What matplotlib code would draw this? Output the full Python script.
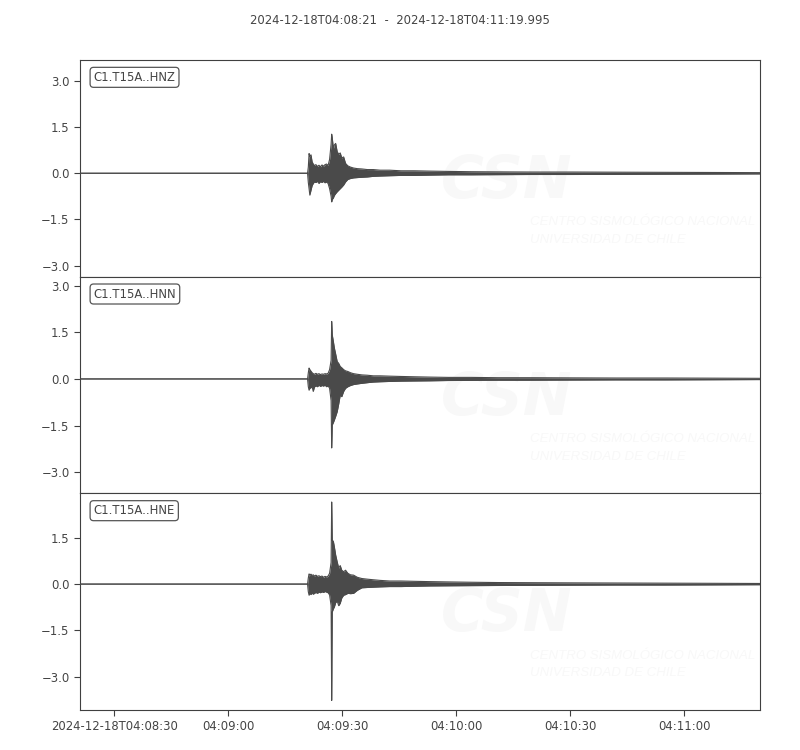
import numpy as np
import matplotlib.pyplot as plt

# Tempo em segundos depois de 2024-12-18T04:08:00
tempos = [21.0, 80.9, 81.1, 81.3, 81.5, 81.8, 82.1, 82.4, 82.7, 83.1,
          83.5, 83.9, 84.3, 84.7, 85.1, 85.5, 85.9, 86.3, 86.7, 87.1,
          87.25, 87.4, 87.7, 87.95, 88.3, 88.7, 89.1, 89.5, 89.9, 90.4,
          90.9, 91.5, 92.2, 93.0, 94.0, 95.2, 96.6, 98.2, 100.0, 102.5,
          105.5, 109.0, 113.0, 118.0, 124.0, 131.0, 140.0, 150.0, 162.0, 175.0,
          188.0, 199.995]

hnz_sup = [0, 0, 0.2, 0.64, 0.55, 0.6, 0.37, 0.3, 0.25, 0.28,
           0.22, 0.26, 0.21, 0.27, 0.23, 0.28, 0.3, 0.25, 0.45, 0.95,
           1.27, 1.15, 0.8, 0.92, 0.97, 0.7, 0.62, 0.66, 0.5, 0.53,
           0.32, 0.24, 0.2, 0.17, 0.15, 0.14, 0.12, 0.12, 0.1, 0.1,
           0.08, 0.08, 0.07, 0.06, 0.05, 0.045, 0.04, 0.04, 0.035, 0.03,
           0.025, 0.02]
hnz_inf = [0, 0, -0.3, -0.5, -0.71, -0.55, -0.4, -0.33, -0.28, -0.3,
           -0.26, -0.33, -0.27, -0.3, -0.26, -0.31, -0.28, -0.33, -0.5, -0.75,
           -0.93, -0.85, -0.8, -0.72, -0.66, -0.6, -0.55, -0.5, -0.45, -0.38,
           -0.28, -0.2, -0.17, -0.15, -0.14, -0.13, -0.12, -0.1, -0.09, -0.08,
           -0.07, -0.07, -0.06, -0.05, -0.05, -0.045, -0.04, -0.04, -0.035, -0.03,
           -0.025, -0.02]

hnn_sup = [0, 0, 0.2, 0.35, 0.3, 0.25, 0.2, 0.17, 0.15, 0.18,
           0.15, 0.17, 0.14, 0.16, 0.15, 0.17, 0.16, 0.18, 0.3, 0.6,
           1.85, 1.42, 1.2, 1.0, 0.8, 0.56, 0.5, 0.4, 0.36, 0.3,
           0.26, 0.24, 0.2, 0.17, 0.15, 0.13, 0.12, 0.1, 0.1, 0.09,
           0.08, 0.07, 0.06, 0.05, 0.05, 0.04, 0.04, 0.035, 0.03, 0.03,
           0.025, 0.02]
hnn_inf = [0, 0, -0.25, -0.36, -0.3, -0.28, -0.25, -0.4, -0.26, -0.22,
           -0.25, -0.2, -0.24, -0.21, -0.23, -0.2, -0.25, -0.22, -0.3, -0.7,
           -2.22, -1.48, -1.4, -1.32, -1.2, -1.05, -0.8, -0.52, -0.57, -0.4,
           -0.3, -0.25, -0.21, -0.18, -0.16, -0.14, -0.12, -0.1, -0.09, -0.08,
           -0.07, -0.065, -0.06, -0.05, -0.045, -0.04, -0.04, -0.035, -0.03, -0.03,
           -0.025, -0.02]

hne_sup = [0, 0, 0.2, 0.33, 0.3, 0.32, 0.28, 0.3, 0.26, 0.29,
           0.25, 0.27, 0.24, 0.26, 0.22, 0.25, 0.23, 0.26, 0.35, 0.7,
           2.66, 1.43, 1.38, 1.21, 0.94, 0.72, 0.52, 0.6, 0.45, 0.4,
           0.45, 0.35, 0.3, 0.29, 0.22, 0.18, 0.16, 0.14, 0.12, 0.1,
           0.1, 0.09, 0.08, 0.07, 0.06, 0.05, 0.045, 0.04, 0.035, 0.03,
           0.025, 0.02]
hne_inf = [0, 0, -0.25, -0.36, -0.3, -0.34, -0.28, -0.33, -0.3, -0.27,
           -0.3, -0.26, -0.28, -0.25, -0.27, -0.24, -0.26, -0.28, -0.35, -0.7,
           -3.77, -0.9, -0.8, -0.74, -0.6, -0.55, -0.7, -0.62, -0.45, -0.36,
           -0.34, -0.3, -0.31, -0.3, -0.2, -0.12, -0.11, -0.1, -0.09, -0.08,
           -0.08, -0.07, -0.06, -0.055, -0.05, -0.045, -0.04, -0.035, -0.03, -0.03,
           -0.025, -0.02]

canais = ['C1.T15A..HNZ', 'C1.T15A..HNN', 'C1.T15A..HNE']
limites_y = [(-3.36, 3.68), (-3.68, 3.29), (-4.08, 2.94)]
yticks = [-3.0, -1.5, 0.0, 1.5, 3.0]
xticks = [30, 60, 90, 120, 150, 180]
xtick_labels = ['2024-12-18T04:08:30', '04:09:00', '04:09:30',
                '04:10:00', '04:10:30', '04:11:00']
titulo = '2024-12-18T04:08:21  -  2024-12-18T04:11:19.995'

cor = '#4a4a4a'
cor_texto = '#444444'
fs = 8.4

fig, axes = plt.subplots(3, 1, figsize=(8, 7.5), dpi=100, sharex=True)
fig.subplots_adjust(left=0.1, right=0.95, top=0.92, bottom=0.0533, hspace=0)

envs = [(hnz_sup, hnz_inf), (hnn_sup, hnn_inf), (hne_sup, hne_inf)]

for ax, nome, (sup, inf), lim in zip(axes, canais, envs, limites_y):
    # marca d'água (quase invisível)
    ax.text(0.628, 0.44, 'CSN', transform=ax.transAxes, fontsize=42,
            fontweight='bold', style='italic', color='#f8f8f8',
            ha='center', va='center', zorder=0)
    ax.text(0.662, 0.21, 'CENTRO SISMOLÓGICO NACIONAL\nUNIVERSIDAD DE CHILE',
            transform=ax.transAxes, fontsize=9.5, style='italic',
            color='#f8f8f8', ha='left', va='center', linespacing=1.6,
            family='Liberation Sans', zorder=0)

    # sinal
    ax.fill_between(tempos, inf, sup, color=cor, lw=0, zorder=2)
    ax.plot(tempos, sup, color=cor, lw=0.8, zorder=3)
    ax.plot(tempos, inf, color=cor, lw=0.8, zorder=3)

    ax.set_yticks(yticks)
    ax.set_ylim(lim)
    ax.set_xlim(21, 199.995)

    ax.text(0.02, 0.92, nome, transform=ax.transAxes, fontsize=fs,
            color=cor_texto, ha='left', va='center',
            bbox=dict(boxstyle='round,pad=0.3', fc='white', ec='#555555', lw=0.9))

    for s in ax.spines.values():
        s.set_color('#404040')
    ax.tick_params(axis='both', labelsize=fs, colors='#404040',
                   labelcolor=cor_texto, length=4, width=0.8)

axes[-1].set_xticks(xticks)
axes[-1].set_xticklabels(xtick_labels)
axes[-1].set_xlim(21, 199.995)

fig.text(0.5, 1 - 20 / 750, titulo, ha='center', va='center',
         fontsize=fs, color=cor_texto)

plt.savefig('out.png')
